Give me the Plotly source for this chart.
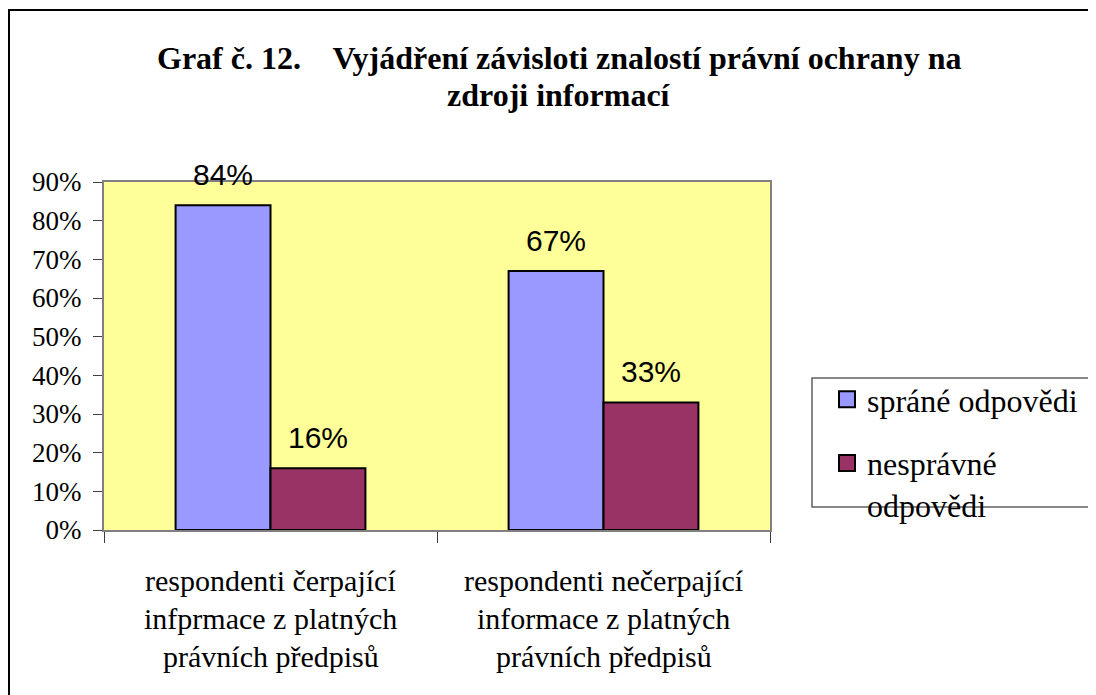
import plotly.graph_objects as go

# data
category_lines = [
    ["respondenti čerpající", "infprmace z platných", "právních předpisů"],
    ["respondenti nečerpající", "informace z platných", "právních předpisů"],
]
categories = [" ".join(lines) for lines in category_lines]
correct = [0.84, 0.67]
wrong = [0.16, 0.33]
series_names = ["spráné odpovědi", "nesprávné<br>odpovědi"]
series_colors = ["#9999FF", "#993366"]
title_lines = [
    "Graf č. 12.&nbsp;&nbsp;&nbsp; Vyjádření závisloti znalostí právní ochrany na",
    "zdroji informací",
]

SERIF = "Times New Roman, Liberation Serif, DejaVu Serif, serif"
SANS = "Arial, Liberation Sans, sans-serif"

# plot area in figure pixels (page has an 8px body margin)
L, R, T, B = 96, 762, 174, 522
W, H = R - L, B - T


def px_x(p):
    return (p - L) / W


def px_y(p):
    return (B - p) / H


fig = go.Figure()
for values, name, color in zip([correct, wrong], series_names, series_colors):
    fig.add_trace(go.Bar(
        x=categories, y=values, name=name, showlegend=False,
        marker=dict(color=color, line=dict(color="black", width=2)),
    ))

# legend entries with bigger square swatches (Excel style)
for i, (name, color) in enumerate(zip(series_names, series_colors)):
    fig.add_trace(go.Scatter(
        x=[None], y=[None], mode="markers", name=name, legendgroup=str(i),
        marker=dict(symbol="square", size=16, color=color,
                    line=dict(color="black", width=2)),
    ))

# value labels above the bars
for values, shift in [(correct, -48), (wrong, 47)]:
    for cat, v in zip(categories, values):
        fig.add_annotation(
            x=cat, y=v, xref="x", yref="y", xshift=shift, yshift=12,
            yanchor="bottom", showarrow=False, text=f"{v:.0%}",
            font=dict(family=SANS, size=30, color="black"),
        )

# category labels (three lines each, Excel-like line spacing)
for cat, lines in zip(categories, category_lines):
    for i, line in enumerate(lines):
        fig.add_annotation(
            x=cat, y=0, xref="x", yref="paper", yanchor="middle",
            yshift=-(50 + 38 * i), showarrow=False, text=line,
            font=dict(family=SERIF, size=30, color="black"),
        )

# two-line bold title
for i, line in enumerate(title_lines):
    fig.add_annotation(
        x=px_x(551), y=px_y(50 + 37 * i), xref="paper", yref="paper",
        xanchor="center", yanchor="middle", showarrow=False, text=line,
        font=dict(family=SERIF, size=32, color="black", weight="bold"),
    )

# outer chart frame and legend frame
fig.add_shape(type="rect", xref="paper", yref="paper",
              x0=px_x(1), x1=px_x(1110), y0=px_y(710), y1=px_y(2),
              line=dict(color="black", width=2))
fig.add_shape(type="rect", xref="paper", yref="paper",
              x0=px_x(804), x1=px_x(1110), y0=px_y(499), y1=px_y(370),
              line=dict(color="#606060", width=1.5))

fig.update_layout(
    width=1096, height=695,
    margin=dict(l=L, r=1096 - R, t=T, b=695 - B),
    paper_bgcolor="white",
    plot_bgcolor="#FFFF99",
    barmode="group",
    bargap=0.43,
    bargroupgap=0,
    showlegend=True,
    legend=dict(
        x=px_x(819), y=px_y(364), xanchor="left", yanchor="top",
        bgcolor="rgba(0,0,0,0)", borderwidth=0,
        font=dict(family=SERIF, size=32, color="black"),
        traceorder="grouped", tracegroupgap=19, valign="top",
        itemsizing="trace",
    ),
    xaxis=dict(
        showticklabels=False, showgrid=False, zeroline=False,
        showline=True, linecolor="#808080", linewidth=2, mirror=True,
        ticks="outside", tickson="boundaries", ticklen=11,
        tickcolor="#404040", tickwidth=1,
    ),
    yaxis=dict(
        range=[0, 0.9], dtick=0.1, tickformat=".0%",
        showgrid=False, zeroline=False,
        showline=True, linecolor="#808080", linewidth=2, mirror=True,
        ticks="outside", ticklen=9, tickcolor="#404040", tickwidth=1,
        ticklabelstandoff=6,
        tickfont=dict(family=SERIF, size=27, color="black"),
    ),
)

fig.write_html("out.html")
